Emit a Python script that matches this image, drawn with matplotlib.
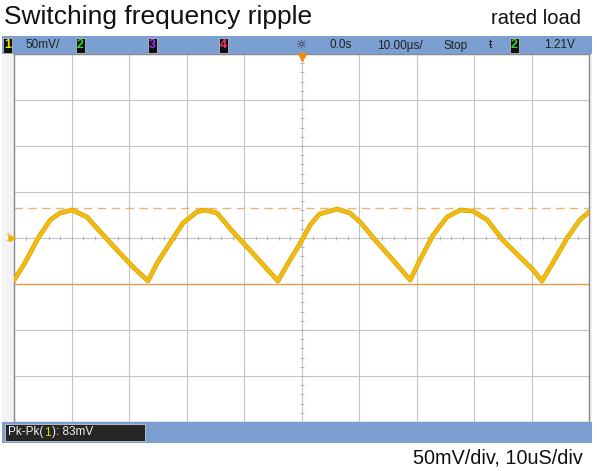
import numpy as np
import matplotlib
matplotlib.use("Agg")
import matplotlib.pyplot as plt
from matplotlib.patches import Rectangle
import matplotlib.patheffects as pe

# ripple trace (time in us, relative to trigger; mV about centre)
trace_t = [-50.0, -48.1, -45.8, -43.7, -42.0, -39.9, -37.3, -34.5, -31.6, -29.3,
           -26.7, -25.1, -22.3, -20.6, -18.2, -16.8, -14.7, -11.9, -9.0, -6.0,
           -4.1, -2.0, 0.0, 1.5, 3.1, 6.2, 8.4, 10.2, 13.1, 15.9,
           18.9, 20.6, 22.9, 25.3, 27.6, 29.8, 32.3, 35.0, 38.0, 40.3,
           41.8, 43.7, 46.2, 48.4, 50.0]
trace_mv = [-46, -27, 0, 19.6, 27.2, 30.4, 22.8, 3.3, -16.3, -31.5,
            -46.7, -27.2, 0, 16.3, 28.3, 30.4, 27.2, 6.5, -13.0, -33.7,
            -46.7, -23.9, -3.3, 14, 26, 31.5, 27.2, 17.4, -4.3, -23.9,
            -45.7, -23.9, 3.3, 22.8, 30.4, 29.3, 19.6, -2.2, -20.7, -34.8,
            -46.7, -27.2, 0, 19.6, 28.3]

cursor_top = 32.6
cursor_bottom = -50

title = "Switching frequency ripple"
subtitle = "rated load"
scale_note = "50mV/div, 10uS/div"
measure_parts = [("Pk-Pk(", "#f0f0f0"), ("1", "#d8e000"), ("): 83mV", "#f0f0f0")]

W, H = 597, 471
fig = plt.figure(figsize=(W / 100, H / 100), dpi=100)
fig.patch.set_facecolor("white")


def rect(x0, y0, x1, y1, **kw):
    # pixel box (top-left origin) -> figure rectangle
    r = Rectangle((x0 / W, 1 - y1 / H), (x1 - x0) / W, (y1 - y0) / H,
                  transform=fig.transFigure, **kw)
    fig.add_artist(r)
    return r


def fx(x):
    return x / W


def fy(y):
    return 1 - y / H


narrow = ["Liberation Sans Narrow", "Liberation Sans", "DejaVu Sans"]
arial = ["Liberation Sans", "DejaVu Sans"]
bar_col = "#7b9fd1"

# scope screen frame, behind the graticule
rect(2, 36, 592, 443, facecolor="#f3f3f3", edgecolor="none", zorder=-5)

ax = fig.add_axes((14 / W, 1 - 422 / H, 575 / W, 368 / H))
ax.set_facecolor("white")
ax.set_xlim(-50, 50)
ax.set_ylim(-200, 200)
ax.set_xticks(np.arange(-50, 51, 10))
ax.set_yticks(np.arange(-200, 201, 50))
ax.tick_params(length=0, labelbottom=False, labelleft=False)
ax.grid(True, color="#c4c4c4", lw=0.8)
for s in ax.spines.values():
    s.set_color("#8a8a8a")
    s.set_linewidth(1.0)

# centre graticule minor ticks
ax.plot(np.arange(-50, 50.1, 2), np.zeros(51), ls="none", marker="|",
        ms=3, color="#b4b4b4", mew=0.7)
ax.plot(np.zeros(41), np.arange(-200, 200.1, 10), ls="none", marker="_",
        ms=3, color="#b4b4b4", mew=0.7)

# cursors
ax.axhline(cursor_top, color="#f0b070", lw=1.0, ls=(0, (6, 4)))
ax.axhline(cursor_bottom, color="#e0a050", lw=1.0)

# trace
ax.plot(trace_t, trace_mv, color="#f2bb10", lw=2.5, solid_joinstyle="round",
        solid_capstyle="round",
        path_effects=[pe.Stroke(linewidth=3.4, foreground="#d9a000"), pe.Normal()],
        zorder=5)

# top status bar
rect(2, 36, 592, 54, facecolor=bar_col, edgecolor="none")
ch_boxes = [(3, "1", "#f5e200"), (76, "2", "#33d633"), (148, "3", "#9a33ff"),
            (219, "4", "#ff3366"), (510, "2", "#33d633")]
for x0, lab, c in ch_boxes:
    rect(x0, 38, x0 + 9, 53, facecolor="#101010", edgecolor="#d0d0d0", lw=0.5)
    fig.text(fx(x0 + 4.5), fy(45.5), lab, color=c, fontsize=9, fontweight="bold",
             ha="center", va="center", family=narrow)
bar_items = [(43, "50mV/"), (341, "0.0s"), (400, "10.00\u00b5s/"), (456, "Stop"),
             (490, "\u0167"), (559, "1.21V")]
for x, lab in bar_items:
    fig.text(fx(x), fy(45.5), lab, color="#202020", fontsize=8.5,
             ha="center", va="center", family=narrow)
fig.text(fx(302), fy(45.5), "\u263c", color="#303030", fontsize=9,
         ha="center", va="center", family=["DejaVu Sans"])
# trigger position marker
fig.lines.append(plt.Line2D([fx(302)], [fy(57)], marker="v", ms=6, color="#f08a10",
                            transform=fig.transFigure))
# channel 1 ground marker
fig.text(fx(8), fy(238), "1", color="#e8b400", fontsize=7, ha="center",
         va="center", family=narrow)
fig.lines.append(plt.Line2D([fx(12)], [fy(238)], marker=">", ms=4, color="#e8b400",
                            transform=fig.transFigure))

# bottom measurement bar
rect(2, 422, 592, 443, facecolor=bar_col, edgecolor="none")
rect(5, 424, 145, 441, facecolor="#262626", edgecolor="#c8c8c8", lw=0.6)
renderer = fig.canvas.get_renderer()
x_px = 8
for txt, c in measure_parts:
    t = fig.text(fx(x_px), fy(432.5), txt, color=c, fontsize=8.5,
                 ha="left", va="center", family=arial)
    x_px += t.get_window_extent(renderer).width + 1

# annotations around the screen
fig.text(fx(4), fy(17), title, fontsize=19, ha="left", va="center",
         family=arial, color="#111111")
fig.text(fx(581), fy(19), subtitle, fontsize=14.5, ha="right", va="center",
         family=arial, color="#111111")
fig.text(fx(583), fy(458), scale_note, fontsize=14.3, ha="right", va="center",
         family=arial, color="#111111")

fig.savefig("out.png", dpi=100)
